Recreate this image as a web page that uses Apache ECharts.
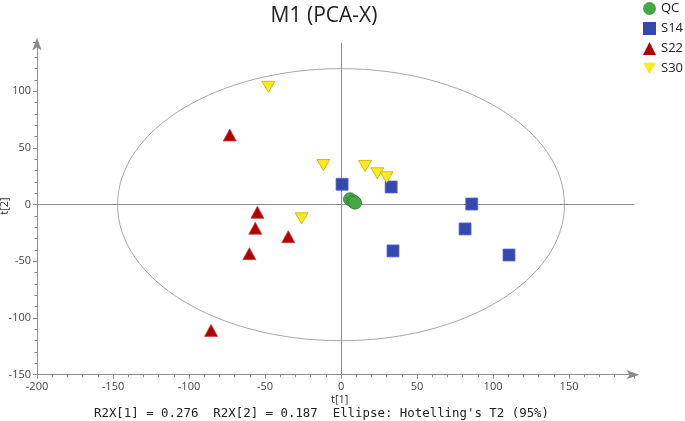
<!DOCTYPE html>
<html>
<head>
<meta charset="utf-8">
<script src="https://cdn.jsdelivr.net/npm/echarts@6/dist/echarts.min.js"></script>
<style>html,body{margin:0;padding:0;background:#fff}#c{width:685px;height:421px}</style>
</head>
<body>
<div id="c"></div>
<script>
// ---- data (t[1], t[2]) ----
const seriesNames = ['QC', 'S14', 'S22', 'S30'];
const qcPoints  = [[5.9, 4.8], [8.1, 3.0], [9.2, 1.8]];
const s14Points = [[0.7, 18.0], [33.0, 15.6], [86.0, 0.6], [81.6, -21.4], [34.2, -40.8], [110.5, -44.4]];
const s22Points = [[-73.2, 61.5], [-55.0, -6.7], [-56.4, -20.8], [-34.7, -28.2], [-60.3, -43.2], [-85.5, -110.9]];
const s30Points = [[-47.8, 104.0], [-11.6, 35.0], [15.8, 34.2], [23.9, 27.7], [30.0, 24.2], [-25.9, -12.0]];
const ellipseRadii = [147, 120];           // Hotelling's T2 (95%) ellipse half-axes
const xTicks = [-200, -150, -100, -50, 0, 50, 100, 150];
const yTicks = [-150, -100, -50, 0, 50, 100];
const footerText = "R2X[1] = 0.276  R2X[2] = 0.187  Ellipse: Hotelling's T2 (95%)";

const X_MIN = -200, X_MAX = 193, Y_MIN = -150, Y_MAX = 143;
const AX = '#8c8c8c';
const LBL = '#444';
const FONT = '"Open Sans", "Noto Sans", sans-serif';
const invTri = 'path://M0,0 L10,0 L5,9 Z';

const chart = echarts.init(document.getElementById('c'), null, {renderer: 'canvas'});

const mainX = {
  type: 'value', position: 'bottom', min: X_MIN, max: X_MAX, interval: 50,
  axisLine: {onZero: false, lineStyle: {color: AX, width: 1}, symbol: ['none', 'arrow'], symbolSize: [7, 13], symbolOffset: [0, 5]},
  axisTick: {show: true, inside: false, length: 4, lineStyle: {color: AX}},
  axisLabel: {color: LBL, fontSize: 11, fontFamily: FONT, margin: 7,
    formatter: v => xTicks.indexOf(v) >= 0 ? String(v) : ''},
  splitLine: {show: false}
};
const minorX = {
  type: 'value', position: 'bottom', min: X_MIN, max: X_MAX, interval: 10,
  axisLine: {show: false, onZero: false}, axisLabel: {show: false}, splitLine: {show: false},
  axisTick: {show: true, inside: false, length: 2.5, lineStyle: {color: AX}}
};
const mainY = {
  type: 'value', position: 'left', min: Y_MIN, max: Y_MAX, interval: 50,
  axisLine: {onZero: false, lineStyle: {color: AX, width: 1}, symbol: ['none', 'arrow'], symbolSize: [7, 13], symbolOffset: [0, 5]},
  axisTick: {show: true, inside: false, length: 4, lineStyle: {color: AX}},
  axisLabel: {color: LBL, fontSize: 11, fontFamily: FONT, margin: 6,
    formatter: v => yTicks.indexOf(v) >= 0 ? String(v) : ''},
  splitLine: {show: false}
};
const minorY = {
  type: 'value', position: 'left', min: Y_MIN, max: Y_MAX, interval: 10,
  axisLine: {show: false, onZero: false}, axisLabel: {show: false}, splitLine: {show: false},
  axisTick: {show: true, inside: false, length: 2.5, lineStyle: {color: AX}}
};

function scatter(name, data, symbol, size, color, border, rotate) {
  return {
    name, type: 'scatter', data, symbol, symbolSize: size, symbolRotate: rotate || 0,
    xAxisIndex: 0, yAxisIndex: 0, z: 5,
    itemStyle: {color, borderColor: border, borderWidth: 0.8, opacity: 1},
    emphasis: {disabled: true}
  };
}

const option = {
  animation: false,
  backgroundColor: '#fff',
  title: {
    text: 'M1 (PCA-X)', left: 319, top: 1, textAlign: 'center',
    textStyle: {fontFamily: FONT, fontSize: 21, fontWeight: 'normal', color: '#222'}
  },
  legend: {
    orient: 'vertical', left: 643, top: 2, itemWidth: 13, itemHeight: 13, itemGap: 7, padding: 0,
    textStyle: {fontFamily: FONT, fontSize: 13, color: '#222'},
    itemStyle: {borderWidth: 0},
    data: [
      {name: 'QC', icon: 'circle'},
      {name: 'S14', icon: 'rect'},
      {name: 'S22', icon: 'triangle'},
      {name: 'S30', icon: invTri}
    ]
  },
  grid: {left: 37, right: 50.6, top: 42.6, bottom: 46.3, containLabel: false},
  xAxis: [mainX, minorX],
  yAxis: [mainY, minorY],
  graphic: [
    {type: 'text', left: 331, top: 394, style: {text: 't[1]', fontFamily: FONT, fontSize: 11, fill: '#333'}},
    {type: 'text', x: 5, y: 206, rotation: Math.PI / 2, style: {text: 't[2]', fontFamily: FONT, fontSize: 11, fill: '#333', align: 'center', verticalAlign: 'middle'}},
    {type: 'text', x: 321.5, y: 414, style: {text: footerText, fontFamily: '"DejaVu Sans Mono", monospace', fontSize: 12.4, fill: '#222', align: 'center', verticalAlign: 'middle'}}
  ],
  series: [
    {
      type: 'custom', xAxisIndex: 0, yAxisIndex: 0, z: 2, silent: true,
      data: [[0, 0]],
      renderItem: function (params, api) {
        const c = api.coord([api.value(0), api.value(1)]);
        const sz = api.size([ellipseRadii[0], ellipseRadii[1]]);
        return {
          type: 'ellipse',
          shape: {cx: c[0], cy: c[1], rx: sz[0], ry: sz[1]},
          style: {fill: 'none', stroke: '#a8a8a8', lineWidth: 1}
        };
      },
      markLine: {
        silent: true, symbol: 'none', label: {show: false},
        lineStyle: {color: AX, type: 'solid', width: 1},
        data: [{xAxis: 0}, {yAxis: 0}]
      }
    },
    scatter('QC', qcPoints, 'circle', 13, '#45a845', '#2d7f33'),
    scatter('S14', s14Points, 'rect', 12, '#3448b0', '#5a6cc4'),
    scatter('S22', s22Points, 'triangle', [13, 12], '#b20000', '#c84040'),
    scatter('S30', s30Points, 'triangle', [13, 11], '#ffe91c', '#c2ad00', 180)
  ]
};
chart.setOption(option);
</script>
</body>
</html>
